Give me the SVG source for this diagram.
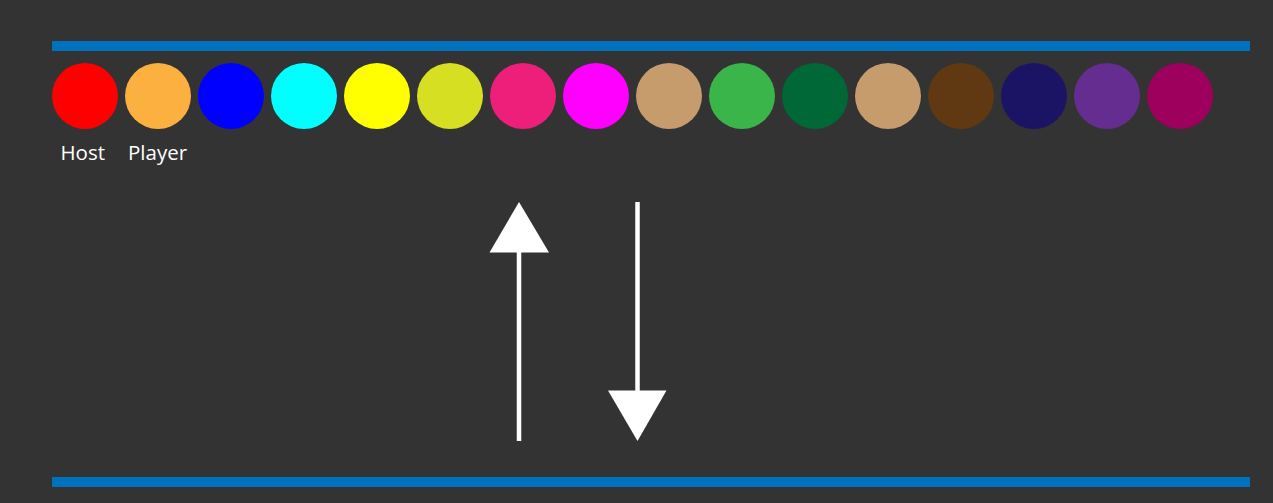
<svg xmlns="http://www.w3.org/2000/svg" width="1273" height="503" viewBox="0 0 1273 503">
<style>
.bar{fill:#0071BC}
.lbl{font-family:"Open Sans","Liberation Sans",sans-serif;font-size:20.5px;fill:#FFFFFF}
.shaft{stroke:#FFFFFF;stroke-width:4.5;fill:none}
.head{fill:#FFFFFF}
</style>
<rect width="1273" height="503" fill="#333333"/>
<rect class="bar" x="52" y="41" width="1198" height="10"/>
<rect class="bar" x="52" y="477" width="1198" height="10"/>
<g id="node-host"><circle cx="85" cy="96" r="33" fill="#FF0000"/><text class="lbl" x="60.5" y="160">Host</text></g>
<g id="node-player"><circle cx="158" cy="96" r="33" fill="#FBB040"/><text class="lbl" x="128" y="160">Player</text></g>
<g id="node-3"><circle cx="231" cy="96" r="33" fill="#0000FF"/></g>
<g id="node-4"><circle cx="304" cy="96" r="33" fill="#00FFFF"/></g>
<g id="node-5"><circle cx="377" cy="96" r="33" fill="#FFFF00"/></g>
<g id="node-6"><circle cx="450" cy="96" r="33" fill="#D7DF23"/></g>
<g id="node-7"><circle cx="523" cy="96" r="33" fill="#EE1E7B"/></g>
<g id="node-8"><circle cx="596" cy="96" r="33" fill="#FF00FF"/></g>
<g id="node-9"><circle cx="669" cy="96" r="33" fill="#C69C6D"/></g>
<g id="node-10"><circle cx="742" cy="96" r="33" fill="#39B54A"/></g>
<g id="node-11"><circle cx="815" cy="96" r="33" fill="#006837"/></g>
<g id="node-12"><circle cx="888" cy="96" r="33" fill="#C69C6D"/></g>
<g id="node-13"><circle cx="961" cy="96" r="33" fill="#603913"/></g>
<g id="node-14"><circle cx="1034" cy="96" r="33" fill="#1B1464"/></g>
<g id="node-15"><circle cx="1107" cy="96" r="33" fill="#662D91"/></g>
<g id="node-16"><circle cx="1180" cy="96" r="33" fill="#9E005D"/></g>
<g id="connectors">
<line class="shaft" x1="519" y1="441" x2="519" y2="250"/>
<polygon class="head" points="519,202 549,252.5 489.5,252.5"/>
<line class="shaft" x1="637.5" y1="202" x2="637.5" y2="393"/>
<polygon class="head" points="637.5,441 608,390.5 666.5,390.5"/>
</g>
</svg>
